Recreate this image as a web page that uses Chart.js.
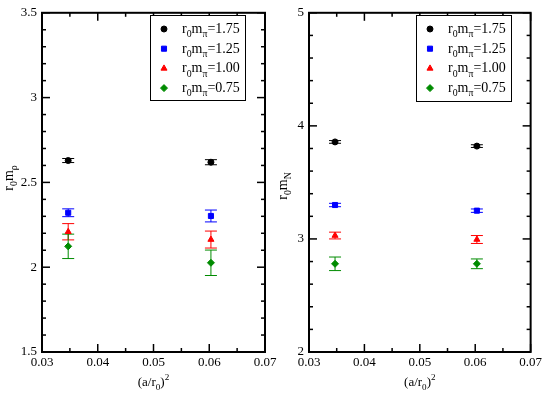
<!DOCTYPE html>
<html>
<head>
<meta charset="utf-8">
<script src="https://cdn.jsdelivr.net/npm/chart.js@4/dist/chart.umd.min.js"></script>
<style>
  body { margin: 0; background: #fff; }
  #wrap { position: relative; width: 545px; height: 393px; }
  canvas { position: absolute; top: 0; }
</style>
</head>
<body>
<div id="wrap">
  <canvas id="rho-chart" width="300" height="393" style="left:0"></canvas>
  <canvas id="nucleon-chart" width="273" height="393" style="left:272px"></canvas>
</div>
<script>
// lattice spacing (a/r0)^2
const spacing = [0.0347, 0.0603];
const pionMasses = ['1.75', '1.25', '1.00', '0.75'];

// rho mass, r0 m_rho
const rho175 = [2.629, 2.619];
const rho125 = [2.321, 2.302];
const rho100 = [2.209, 2.163];
const rho075 = [2.123, 2.026];
const rho175Err = [0.012, 0.015];
const rho125Err = [0.023, 0.035];
const rho100Err = [0.048, 0.050];
const rho075Err = [0.072, 0.075];

// nucleon mass, r0 m_N
const nuc175 = [3.858, 3.821];
const nuc125 = [3.300, 3.250];
const nuc100 = [3.030, 2.995];
const nuc075 = [2.780, 2.780];
const nuc175Err = [0.012, 0.012];
const nuc125Err = [0.015, 0.015];
const nuc100Err = [0.030, 0.035];
const nuc075Err = [0.060, 0.043];

const colors = ['#000000', '#0000ff', '#ff0000', '#008b00'];
const shapes = ['circle', 'rect', 'triangle', 'rectRot'];
const radii = [3, 3.6, 3.5, 3.5];
const serif = 'Liberation Serif';

function points(ys) {
    return spacing.map((x, i) => ({ x: x, y: ys[i] }));
}

// text with subscripts / superscripts, parts = [[text, 'sub'|'sup'|'']]
function richText(ctx, parts, x, y, size, align) {
    ctx.save();
    ctx.textBaseline = 'alphabetic';
    ctx.textAlign = 'left';
    let total = 0;
    parts.forEach(p => {
        ctx.font = (p[1] ? size * 0.7 : size) + 'px "' + serif + '"';
        total += ctx.measureText(p[0]).width;
    });
    let cx = align === 'center' ? x - total / 2 : x;
    parts.forEach(p => {
        ctx.font = (p[1] ? size * 0.7 : size) + 'px "' + serif + '"';
        let dy = p[1] === 'sub' ? size * 0.3 : p[1] === 'sup' ? -size * 0.45 : 0;
        ctx.fillText(p[0], cx, y + dy);
        cx += ctx.measureText(p[0]).width;
    });
    ctx.restore();
}

function seg(ctx, x1, y1, x2, y2) {
    ctx.beginPath();
    ctx.moveTo(x1, y1);
    ctx.lineTo(x2, y2);
    ctx.stroke();
}

const framePlugin = {
    id: 'frame',
    beforeDatasetsDraw(chart) {
        // error bars under the markers
        const { ctx, scales: { x, y } } = chart;
        ctx.save();
        ctx.lineWidth = 1;
        chart.data.datasets.forEach(ds => {
            ctx.strokeStyle = ds.borderColor;
            ds.data.forEach((p, j) => {
                const px = x.getPixelForValue(p.x);
                const top = y.getPixelForValue(p.y + ds.errors[j]);
                const bot = y.getPixelForValue(p.y - ds.errors[j]);
                seg(ctx, px, top, px, bot);
                seg(ctx, px - 6, top, px + 6, top);
                seg(ctx, px - 6, bot, px + 6, bot);
            });
        });
        ctx.restore();
    },
    afterDatasetsDraw(chart, args, opts) {
        const { ctx, chartArea: a, scales: { x, y } } = chart;
        ctx.save();
        ctx.strokeStyle = '#000';
        ctx.lineWidth = 1.5;
        // ticks pointing inward, on all four sides
        for (let v = x.min; v <= x.max + 1e-9; v += opts.minorX) {
            const px = x.getPixelForValue(v);
            const major = Math.abs(v / opts.majorX - Math.round(v / opts.majorX)) < 1e-6;
            const len = major ? 8 : 4;
            seg(ctx, px, a.bottom, px, a.bottom - len);
            seg(ctx, px, a.top, px, a.top + len);
        }
        for (let v = y.min; v <= y.max + 1e-9; v += opts.minorY) {
            const py = y.getPixelForValue(v);
            const major = Math.abs(v / opts.majorY - Math.round(v / opts.majorY)) < 1e-6;
            const len = major ? 8 : 4;
            seg(ctx, a.left, py, a.left + len, py);
            seg(ctx, a.right, py, a.right - len, py);
        }
        ctx.lineWidth = 2;
        ctx.strokeRect(a.left, a.top, a.width, a.height);

        // legend
        const L = opts.legend;
        ctx.fillStyle = '#fff';
        ctx.fillRect(L.left, L.top, L.width, L.height);
        ctx.strokeStyle = '#000';
        ctx.lineWidth = 1;
        ctx.strokeRect(L.left + 0.5, L.top + 0.5, L.width, L.height);
        chart.data.datasets.forEach((ds, i) => {
            const ry = L.top + 14 + i * 19.7;
            ctx.fillStyle = ds.backgroundColor;
            ctx.strokeStyle = ds.borderColor;
            Chart.helpers.drawPoint(ctx, { pointStyle: ds.pointStyle, radius: ds.pointRadius, rotation: 0, borderWidth: 1 }, L.left + 14, ry);
            ctx.fillStyle = '#000';
            richText(ctx, [['r', ''], ['0', 'sub'], ['m', ''], ['\u03c0', 'sub'], ['=' + ds.label, '']], L.left + 32, ry + 4, 14, 'left');
        });

        // axis titles
        ctx.fillStyle = '#000';
        richText(ctx, [['(a/r', ''], ['0', 'sub'], [')', ''], ['2', 'sup']], (a.left + a.right) / 2, 386, 13, 'center');
        ctx.save();
        ctx.translate(opts.yTitleX, opts.yTitleY);
        ctx.rotate(-Math.PI / 2);
        richText(ctx, [['r', ''], ['0', 'sub'], ['m', ''], [opts.ySub, 'sub']], 0, 0, 14, 'center');
        ctx.restore();
        ctx.restore();
    }
};

function makeChart(id, series, errors, yMin, yMax, yStep, yMinor, yWidth, padRight, legend, ySub, yTitleX, yTitleY) {
    return new Chart(document.getElementById(id), {
        type: 'scatter',
        data: {
            datasets: series.map((s, i) => ({
                label: pionMasses[i],
                data: points(s),
                errors: errors[i],
                pointStyle: shapes[i],
                pointRadius: radii[i],
                backgroundColor: colors[i],
                borderColor: colors[i],
                borderWidth: 1
            }))
        },
        options: {
            responsive: false,
            animation: false,
            layout: { padding: { left: 0, top: 7, right: padRight, bottom: 0 } },
            plugins: {
                legend: { display: false },
                tooltip: { enabled: false },
                frame: { minorX: 0.005, majorX: 0.01, minorY: yMinor, majorY: yStep, legend: legend, ySub: ySub, yTitleX: yTitleX, yTitleY: yTitleY }
            },
            scales: {
                x: {
                    type: 'linear', min: 0.03, max: 0.07,
                    grid: { display: false, drawTicks: false },
                    border: { display: false },
                    ticks: { stepSize: 0.01, padding: 3, color: '#000', font: { family: serif, size: 13 }, callback: v => v.toFixed(2) },
                    afterFit: s => { s.height = 41; }
                },
                y: {
                    min: yMin, max: yMax,
                    grid: { display: false, drawTicks: false },
                    border: { display: false },
                    ticks: { stepSize: yStep, padding: 5, color: '#000', font: { family: serif, size: 13 }, callback: v => String(v) },
                    afterFit: s => { s.width = yWidth; }
                }
            }
        },
        plugins: [framePlugin]
    });
}

makeChart('rho-chart',
    [rho175, rho125, rho100, rho075],
    [rho175Err, rho125Err, rho100Err, rho075Err],
    1.5, 3.5, 0.5, 0.1, 42, 35,
    { left: 150, top: 15, width: 95, height: 85 }, '\u03c1', 13, 178);

makeChart('nucleon-chart',
    [nuc175, nuc125, nuc100, nuc075],
    [nuc175Err, nuc125Err, nuc100Err, nuc075Err],
    2, 5, 1, 0.2, 37, 13,
    { left: 144, top: 15, width: 95, height: 86 }, 'N', 15, 186);
</script>
</body>
</html>
